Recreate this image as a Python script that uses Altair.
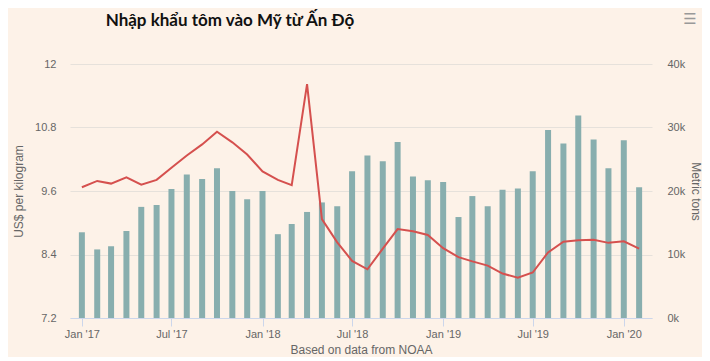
import altair as alt
import pandas as pd

months = [
    "2017-01", "2017-02", "2017-03", "2017-04", "2017-05", "2017-06",
    "2017-07", "2017-08", "2017-09", "2017-10", "2017-11", "2017-12",
    "2018-01", "2018-02", "2018-03", "2018-04", "2018-05", "2018-06",
    "2018-07", "2018-08", "2018-09", "2018-10", "2018-11", "2018-12",
    "2019-01", "2019-02", "2019-03", "2019-04", "2019-05", "2019-06",
    "2019-07", "2019-08", "2019-09", "2019-10", "2019-11", "2019-12",
    "2020-01", "2020-02",
]
metric_tons = [
    13500, 10800, 11300, 13700, 17500, 17800,
    20300, 22600, 21900, 23600, 20000, 18700,
    20000, 13200, 14800, 16700, 18200, 17600,
    23100, 25600, 24700, 27700, 22300, 21700,
    21400, 15900, 19200, 17600, 20200, 20400,
    23100, 29600, 27500, 31900, 28100, 23600,
    28000, 20600,
]
usd_per_kg = [
    9.67, 9.79, 9.74, 9.86, 9.72, 9.81,
    10.04, 10.27, 10.48, 10.72, 10.52, 10.29,
    9.97, 9.81, 9.71, 11.62, 9.07, 8.63,
    8.28, 8.12, 8.51, 8.88, 8.84, 8.77,
    8.52, 8.35, 8.27, 8.19, 8.04, 7.96,
    8.06, 8.44, 8.64, 8.67, 8.68, 8.62,
    8.65, 8.51,
]
left_ticks = [7.2, 8.4, 9.6, 10.8, 12]
right_ticks = [0, 10000, 20000, 30000, 40000]
x_tick_dates = [(2017, 1), (2017, 7), (2018, 1), (2018, 7), (2019, 1), (2019, 7), (2020, 1)]

title_text = ["Nhập khẩu tôm vào Mỹ từ Ấn Độ"]
menu_icon = ["☰"]
left_title = "US$ per kilogram"
right_title = "Metric tons"
x_title = "Based on data from NOAA"

df = pd.DataFrame({
    "date": [m + "-01T00:00:00" for m in months],
    "tons": metric_tons,
    "price": usd_per_kg,
})

label_font = "Liberation Sans"
grey = "#666666"

x_enc = alt.X(
    "date:T",
    scale=alt.Scale(domain=[alt.DateTime(year=2016, month=12, date=8),
                            alt.DateTime(year=2020, month=2, date=27)],
                    padding=0),
    axis=alt.Axis(
        values=[alt.DateTime(year=y, month=m, date=1) for y, m in x_tick_dates],
        format="%b '%y", title=x_title, grid=False,
        domainColor="#ccd6eb", tickColor="#ccd6eb", tickSize=8,
        labelPadding=2, labelFont=label_font, labelFontSize=11, labelColor=grey,
        titleFont=label_font, titleFontSize=12, titleFontWeight="normal",
        titleColor=grey, titlePadding=5,
    ),
)

bars = alt.Chart(df).mark_bar(size=6, color="#88aeae").encode(
    x=x_enc,
    y=alt.Y("tons:Q",
            scale=alt.Scale(domain=[0, 40000], nice=False),
            axis=alt.Axis(orient="right", values=right_ticks, format="~s",
                          grid=False, domain=False, ticks=False,
                          labelPadding=15, labelFont=label_font, labelFontSize=11,
                          labelColor=grey, title=right_title, titleFont=label_font,
                          titleFontSize=12, titleFontWeight="normal", titleColor=grey,
                          titlePadding=4)),
)

line = alt.Chart(df).mark_line(color="#d5504e", strokeWidth=2).encode(
    x=x_enc,
    y=alt.Y("price:Q",
            scale=alt.Scale(domain=[7.2, 12], nice=False, zero=False),
            axis=alt.Axis(orient="left", values=left_ticks, format=".3~g",
                          grid=True, gridColor="#e6e1db", domain=False, ticks=False,
                          labelPadding=14, labelFont=label_font, labelFontSize=11,
                          labelColor=grey, title=left_title, titleFont=label_font,
                          titleFontSize=12, titleFontWeight="normal", titleColor=grey,
                          titlePadding=9)),
)

title = alt.Chart(pd.DataFrame({"t": title_text})).mark_text(
    font="Lato", fontSize=17, fontWeight="bold", color="#111111",
    align="center", baseline="alphabetic"
).encode(text="t:N", x=alt.value(160), y=alt.value(-38))

menu = alt.Chart(pd.DataFrame({"t": menu_icon})).mark_text(
    font="DejaVu Sans", fontSize=15, color="#999999", align="center", baseline="middle"
).encode(text="t:N", x=alt.value(620), y=alt.value(-45))

chart = alt.layer(bars, line, title, menu).resolve_scale(y="independent").properties(
    width=582,
    height=254,
    autosize=alt.AutoSizeParams(type="none"),
    padding={"left": 62, "top": 56, "right": 50, "bottom": 39},
    background="#fdf2e8",
).configure_view(stroke=None)

chart.save("out.html", embed_options={"renderer": "svg", "actions": False})
